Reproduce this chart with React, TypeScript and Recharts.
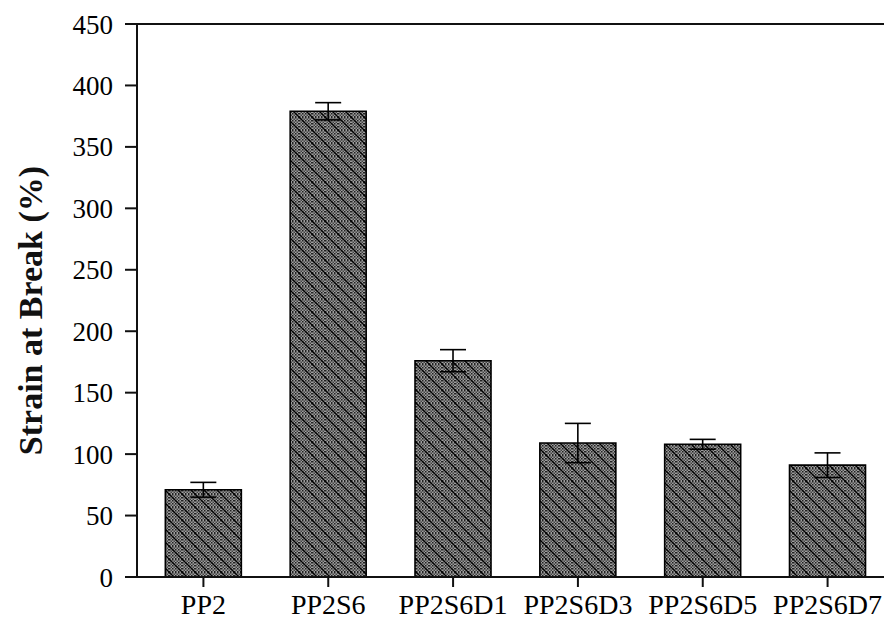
import React from 'react';
import {
    BarChart,
    Bar,
    XAxis,
    YAxis,
    ErrorBar,
    ReferenceLine,
    Label,
} from 'recharts';

const categories = ['PP2', 'PP2S6', 'PP2S6D1', 'PP2S6D3', 'PP2S6D5', 'PP2S6D7'];
const strain = [71, 379, 176, 109, 108, 91];
const strainErr = [6, 7, 9, 16, 4, 10];
const yTicks = [0, 50, 100, 150, 200, 250, 300, 350, 400, 450];

const data = categories.map((name, i) => ({ name, strain: strain[i], err: strainErr[i] }));

const FONT = '"Liberation Serif", "Times New Roman", serif';

const AxisTitle = ({ viewBox }: { viewBox?: { x: number; y: number; width: number; height: number } }) => {
    if (!viewBox) return null;
    const cx = viewBox.x + 42;
    const cy = viewBox.y + viewBox.height / 2 + 10;
    return (
        <text
            x={cx}
            y={cy}
            transform={`rotate(-90, ${cx}, ${cy})`}
            textAnchor="middle"
            fontFamily={FONT}
            fontWeight="bold"
            fontSize={34}
            fill="#111"
        >
            Strain at Break (%)
        </text>
    );
};

const App: React.FC = () => {
    return (
        <div style={{ position: 'absolute', left: 0, top: 0, width: 884, height: 624, overflow: 'hidden', background: '#fff' }}>
            <BarChart
                width={890}
                height={624}
                data={data}
                margin={{ top: 24, right: 0, left: 0, bottom: 0 }}
                barCategoryGap="19.5%"
            >
                <defs>
                    <pattern id="dots" width="3" height="3" patternUnits="userSpaceOnUse">
                        <rect width="3" height="3" fill="#9e9e9e" />
                        <rect width="1.5" height="1.5" fill="#222" />
                        <rect x="1.5" y="1.5" width="1.5" height="1.5" fill="#444" />
                    </pattern>
                    <pattern id="hatch" width="13" height="13" patternUnits="userSpaceOnUse">
                        <rect width="13" height="13" fill="url(#dots)" />
                        <path d="M0,0 L13,13 M-2,11 L2,15 M11,-2 L15,2" stroke="#000" strokeWidth={1.3} />
                    </pattern>
                </defs>
                <XAxis
                    dataKey="name"
                    height={47}
                    padding={{ left: 4, right: 0 }}
                    axisLine={{ stroke: '#111', strokeWidth: 2 }}
                    tickLine={{ stroke: '#111', strokeWidth: 2 }}
                    tickSize={10}
                    tickMargin={7}
                    tick={{ fill: '#000', fontSize: 28, fontFamily: FONT }}
                    interval={0}
                />
                <YAxis
                    domain={[0, 450]}
                    ticks={yTicks}
                    width={137}
                    axisLine={{ stroke: '#111', strokeWidth: 2 }}
                    tickLine={{ stroke: '#111', strokeWidth: 2 }}
                    tickSize={12}
                    tickMargin={12}
                    tick={{ fill: '#000', fontSize: 27, fontFamily: FONT }}
                    interval={0}
                >
                    <Label content={<AxisTitle />} />
                </YAxis>
                <ReferenceLine y={450} stroke="#111" strokeWidth={2} />
                <Bar
                    dataKey="strain"
                    fill="url(#hatch)"
                    stroke="#000"
                    strokeWidth={1.6}
                    isAnimationActive={false}
                >
                    <ErrorBar dataKey="err" width={13} stroke="#000" strokeWidth={1.6} direction="y" />
                </Bar>
            </BarChart>
        </div>
    );
};

export default App;
